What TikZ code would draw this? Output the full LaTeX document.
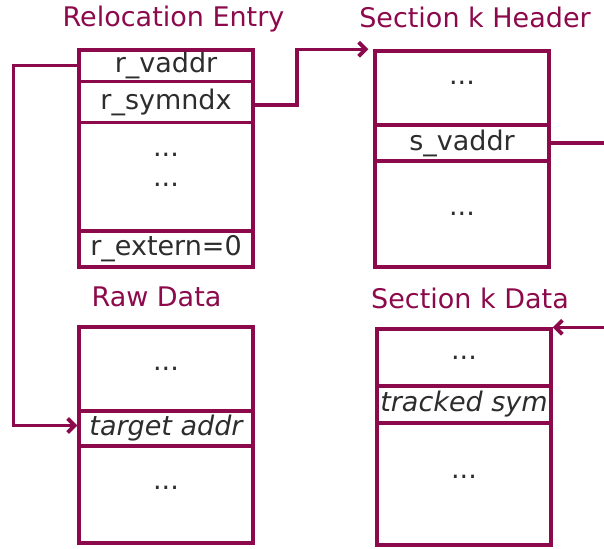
\documentclass[tikz,border=0pt]{standalone}
\usepackage{fontspec}
\setmainfont{DejaVu Sans}
\usetikzlibrary{arrows.meta,calc}
\definecolor{maroon}{RGB}{140,10,75}
\definecolor{txtgray}{RGB}{45,45,45}
\tikzset{
  cell/.style={draw=maroon, line width=3.4pt, minimum width=174pt, inner sep=0pt,
               text=txtgray, font=\fontsize{27}{30}\selectfont},
  txt/.style={inner sep=0pt, text=txtgray, font=\fontsize{27}{30}\selectfont},
  ttl/.style={inner sep=0pt, anchor=base, text=maroon, font=\fontsize{27}{30}\selectfont},
  conn/.style={draw=maroon, line width=3.4pt, line join=miter},
  tip/.style={-{Straight Barb[length=7pt,width=14pt,line width=3.8pt]}}
}
\begin{document}
\begin{tikzpicture}[x=1pt,y=-1pt]
\useasboundingbox (0,0) rectangle (604,548);

% titles
\node[ttl] (tRel) at (173.5,27) {Relocation Entry};
\node[ttl] (tHdr) at (475,28) {Section k Header};
\node[ttl] (tRaw) at (156.5,306) {Raw Data};
\node[ttl] (tDat) at (470,308) {Section k Data};

% Relocation Entry
\node[cell, minimum height=31.5pt] (rvaddr) at (166,65.75) {r\_vaddr};
\node[cell, minimum height=41pt]   (rsym)   at (166,102) {r\_symndx};
\node[cell, minimum height=108.5pt] (rmid)  at (166,176.75) {};
\node[txt] (rdots1) at (166,155) {...};
\node[txt] (rdots2) at (166,184.5) {...};
\node[cell, minimum height=36pt]   (rext)   at (166,249) {r\_extern=0};

% Section k Header
\node[cell, minimum height=74pt]  (h1)  at (462,88) {};
\node[txt] (h1dots) at (462,83.3) {...};
\node[cell, minimum height=36pt]  (hsv) at (462,143) {s\_vaddr};
\node[cell, minimum height=106pt] (h3)  at (462,214) {...};

% Raw Data
\node[cell, minimum height=84pt] (r1) at (166,369) {...};
\node[cell, minimum height=35pt] (rtarget) at (166,428.5) {\itshape target addr};
\node[cell, minimum height=97pt] (r3) at (166,494.5) {};
\node[txt] (r3dots) at (166,488.3) {...};

% Section k Data
\node[cell, minimum height=57pt]  (d1)   at (464,357.5) {...};
\node[cell, minimum height=37pt]  (dsym) at (464,404.5) {\itshape tracked sym};
\node[cell, minimum height=122pt] (d3)   at (464,484) {};
\node[txt] (d3dots) at (464,476.7) {...};

% connectors
\coordinate (lx) at (13.5,0);
\coordinate (mx) at (297,0);
\coordinate (rx) at (614,0);

\draw[conn,tip] (rvaddr.west) -- (rvaddr.west -| lx) |- ([yshift=3pt]rtarget.west);
\draw[conn,tip] ([yshift=-3pt]rsym.east) -- ([yshift=-3pt]rsym.east -| mx) |- ([xshift=-5pt]h1.north west);
\draw[conn,tip] (hsv.east) -- (hsv.east -| rx) |- (d1.north east);
\end{tikzpicture}
\end{document}
